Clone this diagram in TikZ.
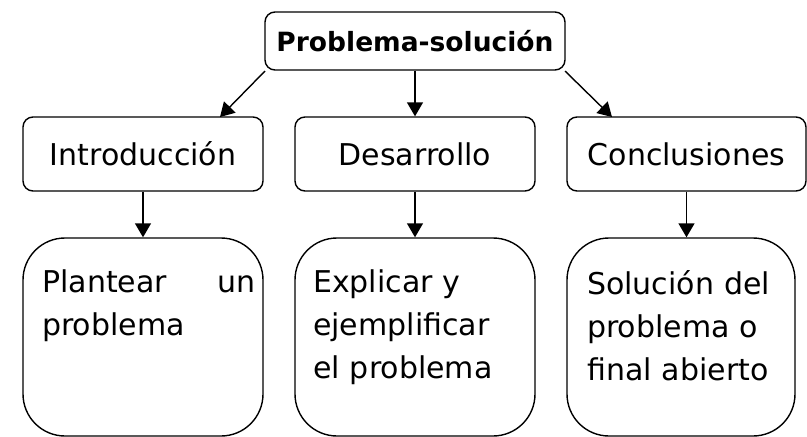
\documentclass[tikz,border=0pt]{standalone}
\usepackage{fontspec}
\setmainfont{DejaVu Sans}
\usetikzlibrary{arrows.meta}
\begin{document}
\begin{tikzpicture}[x=1pt,y=-1pt,
  box/.style={draw,line width=1.4pt,rounded corners=10pt,inner sep=0pt},
  bigbox/.style={draw,line width=1.4pt,rounded corners=42pt,inner sep=0pt},
  arr/.style={line width=1.4pt,-{Triangle[length=14pt,width=16pt]}},
  lbl/.style={font=\fontsize{30}{34}\selectfont},
  body/.style={anchor=north west,inner sep=0pt,align=left,font=\fontsize{30}{43}\selectfont}]
\useasboundingbox (0,0) rectangle (807,437);
\node[box,minimum width=300pt,minimum height=58pt,font=\bfseries\fontsize{26.5}{30}\selectfont] (top) at (415,41) {Problema-solución};
\node[box,lbl,minimum width=240pt,minimum height=74pt] (intro) at (143,154) {Introducción};
\node[box,lbl,minimum width=240pt,minimum height=74pt] (des) at (415,154) {Desarrollo};
\node[box,lbl,minimum width=239pt,minimum height=74pt] (conc) at (686.5,154) {Conclusiones};
\node[bigbox,minimum width=240pt,minimum height=198pt] (b1) at (143,337) {};
\node[bigbox,minimum width=240pt,minimum height=198pt] (b2) at (415,337) {};
\node[bigbox,minimum width=228pt,minimum height=198pt] (b3) at (681,337) {};
\node[body,text width=213pt] (t1) at (42,270) {Plantear\hfill un\\problema};
\node[body,text width=210pt] (t2) at (313,270) {Explicar y\\ejemplificar\\el problema};
\node[body,text width=205pt] (t3) at (587,270) {Solución del\\problema o\\final abierto};
\coordinate (tl) at (265,71);
\coordinate (tr) at (565,71);
\coordinate (il) at (220,117);
\coordinate (cr) at (612,117);
\draw[arr] (tl) -- (il);
\draw[arr] (top.south) -- (des.north);
\draw[arr] (tr) -- (cr);
\draw[arr] (intro.south) -- (b1.north-|intro.south);
\draw[arr] (des.south) -- (b2.north);
\draw[arr] (conc.south) -- (b3.north-|conc.south);
\end{tikzpicture}
\end{document}
